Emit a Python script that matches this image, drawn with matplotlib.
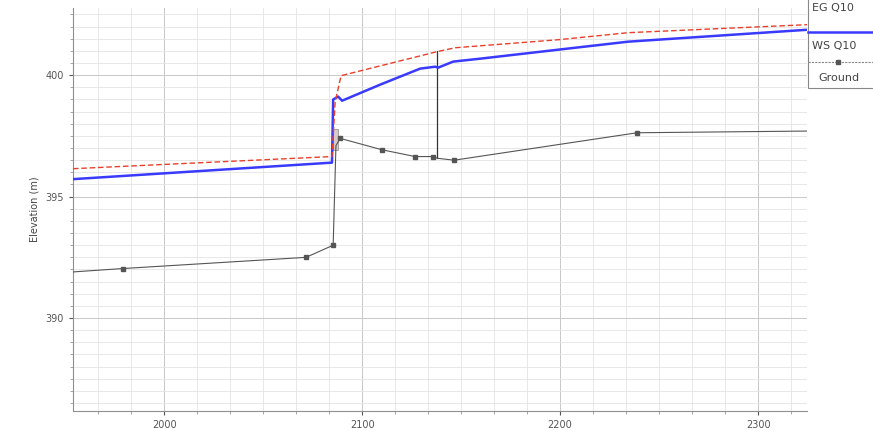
import matplotlib.pyplot as plt
from matplotlib.ticker import MultipleLocator
from matplotlib.lines import Line2D
from matplotlib.patches import Rectangle

# main channel distance (m) and elevations (m) read from the profile
ground_x = [1954.0, 1979.3, 2071.7, 2085.4, 2086.8, 2088.9, 2110.0, 2126.8,
            2135.9, 2138.0, 2146.5, 2238.9, 2324.7]
ground_z = [391.90, 392.04, 392.50, 393.00, 397.10, 397.40, 396.93, 396.65,
            396.65, 396.58, 396.50, 397.63, 397.70]
ground_mark = [1, 2, 3, 5, 6, 7, 8, 10, 11]

ws_x = [1954.0, 2084.8, 2085.4, 2087.9, 2089.9, 2109.1, 2119.2, 2129.3,
        2136.9, 2138.4, 2146.0, 2159.6, 2199.0, 2234.3, 2324.7]
ws_z = [395.72, 396.40, 399.00, 399.12, 398.95, 399.61, 399.94, 400.27,
        400.35, 400.31, 400.56, 400.68, 401.05, 401.38, 401.87]

eg_x = [1954.0, 2084.8, 2086.4, 2089.4, 2137.9, 2147.0, 2199.0, 2234.3, 2324.7]
eg_z = [396.15, 396.65, 398.90, 399.98, 400.97, 401.13, 401.46, 401.75, 402.08]

# structure at the bridge / weir
weir_x = 2138.0
weir_z = [396.58, 401.0]

legend_names = ['EG Q10', 'WS Q10', 'Ground']

fig = plt.figure(figsize=(8.73, 4.3), dpi=100)
ax = fig.add_axes([0.0836, 0.044, 0.8408, 0.937])

ax.set_xlim(1954.0, 2324.7)
ax.set_ylim(386.17, 402.76)

ax.xaxis.set_major_locator(MultipleLocator(100))
ax.xaxis.set_minor_locator(MultipleLocator(100 / 6))
ax.yaxis.set_major_locator(MultipleLocator(5))
ax.yaxis.set_minor_locator(MultipleLocator(0.5))
ax.grid(which='major', color='#c8c8c8', lw=0.7)
ax.grid(which='minor', color='#e4e4e4', lw=0.6)
ax.set_axisbelow(True)

for s in ['top', 'right']:
    ax.spines[s].set_visible(False)
for s in ['left', 'bottom']:
    ax.spines[s].set_color('#909090')
ax.tick_params(which='major', labelsize=7, colors='#555555', length=3)
ax.tick_params(which='minor', length=2, colors='#999999')
ax.set_ylabel('Elevation (m)', fontsize=7, color='#444444')

# bridge deck box
ax.add_patch(Rectangle((2085.2, 396.9), 2.6, 0.9, fc='#d8c8c8', ec='#888888', lw=0.5, zorder=2))

ax.plot([weir_x, weir_x], weir_z, color='#333333', lw=0.9, zorder=3)
ax.plot(ground_x, ground_z, color='#555555', lw=0.8, marker='s', ms=2.2,
        markevery=ground_mark, zorder=3)
ax.plot(ws_x, ws_z, color='#3a3aff', lw=1.8, zorder=4)
ax.plot(eg_x, eg_z, color='#e8402a', lw=1.0, ls=(0, (4, 2)), zorder=5)

# legend box, running off the top right like the original
fig.patches.append(Rectangle((808 / 873, 1 - 88 / 430), 0.2, 0.3, transform=fig.transFigure,
                             fc='white', ec='#888888', lw=0.8, zorder=10))
fig.lines.append(Line2D([808 / 873, 1], [1 - 32 / 430] * 2, transform=fig.transFigure,
                        color='#3a3aff', lw=1.8, zorder=11))
fig.lines.append(Line2D([808 / 873, 1], [1 - 62 / 430] * 2, transform=fig.transFigure,
                        color='#888888', lw=0.8, ls=(0, (2, 1)), zorder=11))
fig.lines.append(Line2D([838 / 873], [1 - 62 / 430], transform=fig.transFigure,
                        color='#555555', marker='s', ms=2.2, zorder=11))
fig.text(812 / 873, 1 - 8 / 430, legend_names[0], fontsize=8, color='#444444', va='center', zorder=12)
fig.text(812 / 873, 1 - 46 / 430, legend_names[1], fontsize=8, color='#444444', va='center', zorder=12)
fig.text(818 / 873, 1 - 78 / 430, legend_names[2], fontsize=8, color='#444444', va='center', zorder=12)

fig.savefig('out.png', dpi=100)
